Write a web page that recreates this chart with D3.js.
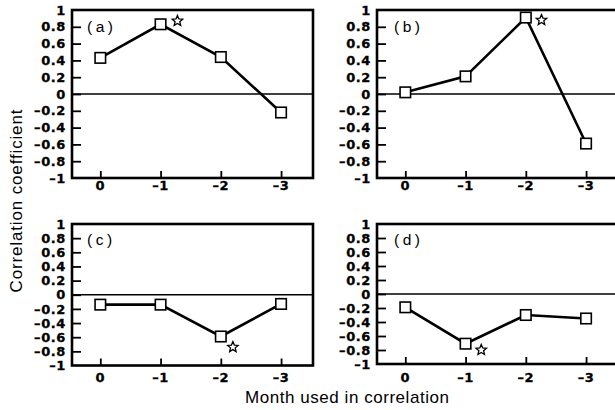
<!DOCTYPE html>
<html><head><meta charset="utf-8">
<script src="https://cdn.jsdelivr.net/npm/d3@7"></script>
<style>body{margin:0;background:#fff}svg{display:block}</style>
</head><body>
<svg id="c" width="615" height="410"></svg>
<script>
// ---- data ----
const months = [0, -1, -2, -3];
const monthLabels = ["0", "\u20131", "\u20132", "\u20133"];
const yTicks = [1, 0.8, 0.6, 0.4, 0.2, 0, -0.2, -0.4, -0.6, -0.8, -1];
const panelNames = ["(a)", "(b)", "(c)", "(d)"];
const seriesA = [0.43, 0.83, 0.44, -0.22];
const seriesB = [0.02, 0.21, 0.91, -0.59];
const seriesC = [-0.14, -0.14, -0.59, -0.13];
const seriesD = [-0.19, -0.71, -0.30, -0.35];
const starMonth = [-1.28, -2.26, -2.2, -1.26];
const starValue = [0.87, 0.88, -0.74, -0.80];
const xTitle = "Month used in correlation";
const yTitle = "Correlation coefficient";

const series = [seriesA, seriesB, seriesC, seriesD];
const layout = [
  {l: 72, t: 10, b: 178, xl: 189.5},
  {l: 377, t: 10, b: 178, xl: 189.5},
  {l: 72, t: 224, b: 365.5, xl: 382},
  {l: 377, t: 224, b: 364, xl: 382}
];
const W = 241;
const svg = d3.select("#c");
const font = "'Liberation Sans', Arial, Helvetica, sans-serif";
const tickFont = "'DejaVu Sans', Verdana, sans-serif";

const fmt = v => {
  if (v === 0) return "0";
  if (v === 1) return "1";
  if (v === -1) return "\u20131";
  const s = Math.abs(v).toFixed(1);
  return (v < 0 ? "\u2013" : "") + s;
};

const starPath = (r) => {
  const pts = [];
  for (let i = 0; i < 10; i++) {
    const a = -Math.PI / 2 + i * Math.PI / 5;
    const rr = i % 2 === 0 ? r : r * 0.45;
    pts.push([rr * Math.cos(a), rr * Math.sin(a)]);
  }
  return "M" + pts.map(p => p.join(",")).join("L") + "Z";
};

series.forEach((vals, i) => {
  const L = layout[i];
  const x = d3.scaleLinear().domain([0.47, -3.53]).range([L.l, L.l + W]);
  const y = d3.scaleLinear().domain([-1, 1]).range([L.b, L.t]);
  const g = svg.append("g");

  // zero line
  g.append("line").attr("x1", L.l).attr("x2", L.l + W)
    .attr("y1", y(0)).attr("y2", y(0))
    .attr("stroke", "#000").attr("stroke-width", 1.3);

  // y axis (ticks inside)
  const yAx = d3.axisRight(y).tickValues(yTicks.filter(v => Math.abs(v) < 1)).tickSize(9).tickFormat("");
  const ya = g.append("g").attr("transform", `translate(${L.l},0)`).call(yAx);
  ya.select(".domain").remove();
  ya.selectAll("line").attr("stroke-width", 1.8);
  // y labels
  g.selectAll(".yl").data(yTicks).join("text")
    .attr("x", L.l - 6).attr("y", d => y(d)).attr("dy", "0.36em")
    .attr("text-anchor", "end").attr("font-family", tickFont)
    .attr("font-weight", "bold").attr("font-size", 13).attr("letter-spacing", 0.6)
    .attr("stroke", "#000").attr("stroke-width", 0.3)
    .text(fmt);

  // x axis ticks inside
  const xAx = d3.axisTop(x).tickValues(months).tickSize(7).tickFormat("");
  const xa = g.append("g").attr("transform", `translate(0,${L.b})`).call(xAx);
  xa.select(".domain").remove();
  xa.selectAll("line").attr("stroke-width", 1.8);
  g.selectAll(".xl").data(months).join("text")
    .attr("x", d => x(d)).attr("y", L.xl)
    .attr("text-anchor", "middle").attr("font-family", tickFont)
    .attr("font-weight", "bold").attr("font-size", 13).attr("letter-spacing", 0.6)
    .attr("stroke", "#000").attr("stroke-width", 0.3)
    .text((d, k) => monthLabels[k]);

  // frame
  g.append("rect").attr("x", L.l).attr("y", L.t)
    .attr("width", W).attr("height", L.b - L.t)
    .attr("fill", "none").attr("stroke", "#000").attr("stroke-width", 2.6);

  // line
  const line = d3.line().x((d, k) => x(months[k])).y(d => y(d));
  g.append("path").datum(vals).attr("d", line)
    .attr("fill", "none").attr("stroke", "#000").attr("stroke-width", 2.6);

  // markers
  const s = 10.5;
  g.selectAll(".m").data(vals).join("rect")
    .attr("x", (d, k) => x(months[k]) - s / 2).attr("y", d => y(d) - s / 2)
    .attr("width", s).attr("height", s)
    .attr("fill", "#fff").attr("stroke", "#000").attr("stroke-width", 1.6);

  // star
  g.append("path").attr("d", starPath(5.5))
    .attr("transform", `translate(${x(starMonth[i])},${y(starValue[i])})`)
    .attr("fill", "#fff").attr("stroke", "#000").attr("stroke-width", 1.3);

  // panel label
  g.append("text").attr("x", L.l + (i % 2 === 0 ? 15 : 17)).attr("y", L.t + (i < 2 ? 22 : 21))
    .attr("font-family", font).attr("font-size", 15.5).attr("letter-spacing", 3.5)
    .text(panelNames[i]);
});

// titles
svg.append("text").attr("x", 347).attr("y", 403).attr("text-anchor", "middle")
  .attr("font-family", font).attr("font-size", 17)
  .attr("textLength", 204).attr("lengthAdjust", "spacing").text(xTitle);
svg.append("text").attr("transform", "translate(22,201) rotate(-90)").attr("text-anchor", "middle")
  .attr("font-family", font).attr("font-size", 17)
  .attr("textLength", 183).attr("lengthAdjust", "spacing").text(yTitle);
</script>
</body></html>
